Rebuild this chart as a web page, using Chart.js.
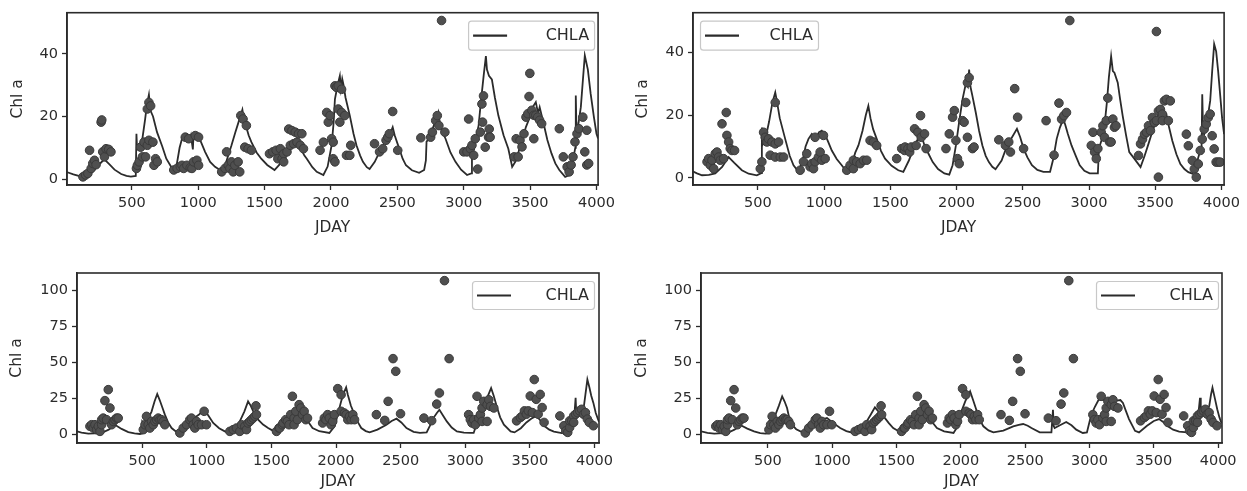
<!DOCTYPE html>
<html>
<head>
<meta charset="utf-8">
<script src="https://cdn.jsdelivr.net/npm/chart.js@4/dist/chart.umd.min.js"></script>
<style>
  body { margin: 0; background: #fff; }
  .panel { position: absolute; }
</style>
</head>
<body>
<div class="panel" style="left:0px;top:0px"><canvas id="c1" width="620" height="245"></canvas></div>
<div class="panel" style="left:625px;top:0px"><canvas id="c2" width="620" height="245"></canvas></div>
<div class="panel" style="left:0px;top:250px"><canvas id="c3" width="620" height="241"></canvas></div>
<div class="panel" style="left:625px;top:250px"><canvas id="c4" width="620" height="241"></canvas></div>
<script>
// tick labels
const xTicks = [500, 1000, 1500, 2000, 2500, 3000, 3500, 4000];
const yTicksTop = [0, 20, 40];
const yTicksBottom = [0, 25, 50, 75, 100];
const seriesName = "CHLA";

// ---- top-left: simulated line + observations
const simX1 = [12,20,60,100,132,170,210,250,293,330,370,420,460,493,530,535,540,560,580,600,615,629,640,660,690,729,760,804,816,840,860,878,900,930,945,960,965,978,1000,1020,1052,1090,1127,1164,1200,1230,1251,1280,1310,1333,1345,1360,1380,1401,1440,1475,1520,1575,1610,1650,1700,1744,1770,1800,1818,1860,1893,1943,1975,2005,2020,2030,2050,2067,2075,2085,2095,2110,2142,2170,2192,2220,2241,2270,2291,2330,2366,2400,2440,2465,2480,2500,2515,2540,2565,2610,2664,2702,2715,2720,2739,2760,2789,2809,2820,2840,2863,2900,2938,2980,3025,3057,3062,3080,3112,3130,3150,3167,3175,3190,3212,3235,3261,3300,3336,3365,3395,3424,3450,3469,3500,3520,3543,3560,3572,3602,3630,3661,3690,3720,3764,3794,3823,3840,3844,3850,3865,3882,3900,3912,3920,3935,3956,3980,4000,4012];
const simY1 = [2.2,2.1,1.5,1.0,0.7,1.2,2.5,4.5,6.3,4.8,3,1.6,1.0,0.8,1.0,14.5,9.5,11,13,19,24,27,22,20,15,10.5,6.5,3.4,2.4,5,10,12.9,13.5,12,14,9.5,14.3,14.5,14,12,8.7,5.5,3.9,2.9,4,8,10.8,15,19,22.2,19,17,14,11.8,8.5,6.5,4.5,2.9,4.5,7.5,10.5,12.9,10,7.5,6.5,3.8,2.3,1.3,4,10.8,18,25.6,30,33,29,32,30,26,20.3,14.5,10.8,7.5,5.5,3.8,3.2,5.5,8.7,11.5,13.9,16.6,14,11.5,9.7,6.5,4.4,2.8,2.0,2.9,6,12,12.9,15.5,18.7,21.3,17,15,12.9,8.5,5.5,3,1.3,1.8,9.7,11,17.1,25,33,39.3,35,33,31.9,26,20.3,14,9.7,3.9,6,10.3,14,16.7,20,23,24.6,21,23,17.7,12.5,8.2,5,2.9,0.7,1.3,6,10,26.7,14.5,18,23,33,39.5,37.9,35,27.3,20,14.5,13];
const obsX1 = [132,152,169,182,194,206,219,231,269,274,281,294,306,326,343,535,542,555,567,580,592,604,617,617,629,629,642,659,667,679,692,816,841,866,878,891,903,915,928,940,953,965,978,990,1003,1003,1177,1202,1214,1226,1239,1251,1264,1276,1301,1313,1321,1338,1351,1363,1376,1401,1537,1562,1587,1600,1619,1632,1644,1644,1669,1682,1694,1706,1719,1731,1744,1756,1769,1781,1793,1918,1943,1968,1980,1993,2005,2017,2017,2030,2030,2042,2055,2055,2067,2080,2080,2104,2117,2142,2149,2328,2366,2390,2415,2428,2440,2465,2503,2677,2751,2764,2789,2801,2813,2833,2858,3000,3025,3037,3050,3062,3075,3087,3105,3125,3137,3142,3149,3162,3187,3192,3199,3380,3395,3410,3424,3439,3454,3469,3483,3492,3498,3513,3528,3528,3543,3557,3572,3587,3720,3750,3779,3794,3809,3823,3838,3853,3868,3897,3912,3927,3927,3941];
const obsY1 = [0.7,1.3,1.8,9.2,3.4,5,6,4.6,18.2,18.9,8.7,7.1,9.7,9.5,8.7,3.4,4.4,5.5,10.2,7.1,11.8,7.1,10.8,22.4,24.5,12.4,23.4,11.8,4.4,6.5,5.5,2.9,3.4,3.9,4.4,3.4,13.4,4.4,12.9,3.6,3.4,5.5,13.9,6,4.4,13.4,2.3,3.4,8.7,4.4,3.4,5.5,2.3,4.4,5.5,2.3,20.3,19.2,10.2,17.1,9.7,9.2,8.1,8.7,9.2,6.5,9.7,6.5,8.1,5.5,8.7,16,10.8,15.5,11.3,15,11.8,14.5,10.8,14.5,9.7,9.2,11.8,21.3,18.2,20.3,12.9,11.8,6.5,5.5,29.8,29.3,29.8,22.4,18.2,28.7,21.3,20.3,7.6,7.6,10.8,11.3,8.7,9.7,12.4,13.4,14.5,21.6,9.2,13.2,13.4,15,18.7,20.3,17.1,50.7,15,8.7,8.7,19.2,9.7,10.8,7.6,12.9,3.2,15,24,18.2,26.6,10.2,13.4,16,13.4,7.1,12.9,7.1,12.4,10.3,14.5,19.8,20.9,26.4,33.8,22,20.4,12.9,20.4,19.8,18.8,17.7,16.1,7.1,3.9,2.3,4.5,7.1,11.9,14.5,16.1,19.8,8.7,15.6,4.5,5];

// ---- top-right
const simX2 = [7,40,78,130,178,230,279,320,379,430,492,525,530,540,560,585,610,631,645,665,706,740,769,807,840,860,882,907,940,960,982,1010,1030,1058,1095,1133,1171,1210,1235,1259,1290,1315,1334,1350,1370,1397,1430,1460,1510,1560,1598,1640,1680,1708,1730,1758,1790,1820,1860,1908,1945,1970,1995,2020,2045,2070,2085,2095,2105,2120,2145,2170,2195,2220,2244,2270,2294,2340,2382,2420,2456,2480,2506,2535,2569,2610,2656,2706,2730,2756,2780,2806,2820,2840,2868,2900,2930,2965,3005,3067,3075,3095,3117,3135,3150,3167,3180,3192,3217,3235,3254,3280,3304,3342,3370,3389,3420,3449,3480,3509,3539,3560,3584,3605,3629,3660,3690,3720,3750,3780,3805,3825,3850,3855,3862,3870,3895,3915,3930,3945,3960,3975,3990,4005,4020];
const simY2 = [2.1,1.4,0.8,0.9,1.4,3.5,6.6,4.8,2.4,1.3,0.8,1.5,16,11,13,18,24,27.2,24,19,12.4,7,4,1.9,6,10,12.4,14,12.5,14.5,15,13.5,11.5,8.7,6,4,1.9,4.5,8,10.3,15,20,22.9,19,15.5,12.4,8.5,6.1,3.8,2.4,1.9,5.5,10,12.4,14,10.3,7.5,5,2.8,1.4,1,4,10.3,18,25,30,29,34.5,29,26,20.8,15,10.3,7,5,3.5,2.7,5.5,10.3,13,15.6,13,9.3,6.5,4,2.5,1.9,1.9,6,12.4,16,18.7,17,14,10.3,7,4,2.2,1.4,1.4,9.3,12,16.6,24,32,38.7,34,33.5,30.3,25,19.8,13.5,8.2,6.1,4.5,3.4,7,10.8,15,18.2,22.4,20,20.3,16,11.8,7.5,4.4,2.8,1.8,1.3,3,6.5,10,26.6,14,13.9,19,24.5,34,42.6,40.3,34,26.6,19,13.9];
const obsX2 = [116,128,141,153,166,178,191,203,216,229,241,261,266,279,291,304,324,518,530,543,555,568,580,593,606,631,631,631,656,669,694,819,844,869,894,907,920,932,932,957,970,982,995,1008,1171,1196,1221,1221,1246,1272,1297,1322,1347,1372,1397,1548,1586,1608,1611,1633,1646,1658,1683,1695,1708,1728,1733,1758,1770,1920,1945,1970,1983,1995,2007,2020,2045,2057,2070,2082,2082,2095,2120,2132,2319,2369,2394,2407,2439,2461,2506,2676,2736,2773,2793,2810,2830,2855,3017,3030,3042,3055,3067,3092,3105,3117,3130,3142,3155,3167,3180,3192,3204,3374,3389,3404,3419,3434,3449,3464,3479,3494,3509,3509,3524,3524,3539,3554,3554,3569,3584,3599,3614,3735,3750,3780,3795,3810,3825,3840,3855,3870,3885,3900,3915,3930,3945,3960,3975,3990];
const obsY2 = [5.1,6.1,4,5.6,2.9,7.7,8.2,6.6,5.6,17.2,6.1,20.8,13.5,11.4,9.3,8.7,8.7,2.9,5.1,14.5,12.9,11.4,12.4,7.2,11.4,10.8,6.6,24,11.4,6.6,6.6,2.4,5.1,7.7,3.5,4.5,2.9,5.1,12.9,6.6,8.2,5.6,13.5,6.1,2.4,4,5.6,2.9,5.1,4.5,5.6,5.6,11.9,11.4,10.3,6.1,9.3,8.7,9.8,9.3,8.2,9.8,15.6,10.3,14.5,19.8,12.9,14,9.3,9.3,14,19.3,21.4,11.9,6.1,4.5,18.2,17.7,24,12.9,30.3,31.9,9.3,9.8,12.1,10.3,11.4,8.2,28.4,19.3,9.3,18.2,7.2,23.8,18.7,19.8,20.8,50.1,10.3,14.5,8.2,6.1,9.3,14.5,16.6,12.9,18.2,25.4,11.4,11.4,18.7,16.1,16.6,7.1,10.8,12.3,13.9,14.5,16.6,15,19.2,17.6,18.2,46.6,21.3,0.2,21.8,20.3,18.2,24.5,25,18.2,24.5,13.9,10.2,5.5,2.8,0.2,4.4,8.7,12.3,15.5,17.1,19.2,20.3,13.4,9.2,5,5,5];

// ---- bottom-left
const simX3 = [-5,30,83,130,186,240,289,340,392,440,482,498,500,515,540,572,595,616,635,655,675,700,727,760,791,825,856,880,907,940,979,1010,1049,1095,1139,1178,1220,1255,1290,1319,1340,1365,1397,1435,1474,1510,1539,1580,1620,1670,1710,1740,1770,1795,1818,1870,1948,1990,2013,2039,2060,2078,2091,2115,2143,2170,2195,2230,2260,2320,2390,2430,2468,2505,2545,2600,2649,2701,2725,2753,2780,2800,2830,2857,2895,2935,2990,3039,3065,3090,3117,3156,3180,3200,3220,3247,3270,3299,3351,3381,3430,3473,3510,3549,3580,3610,3650,3686,3747,3790,3808,3840,3854,3860,3869,3890,3915,3930,3945,3960,3975,3991,4010,4027,4035];
const simY3 = [2.3,1.5,0.7,0.9,1.2,3.5,6.9,4,1.8,0.9,0.5,0.8,9.2,7.5,10,16,23,28.2,24,19,13.9,8.5,4.6,2.2,1.2,4.5,9.2,11,12,14,17.3,13.5,8.1,4.5,2.3,1.2,4.5,9.2,16,23.1,20,15,10.4,7,4.6,2.8,1.8,4.5,8,11.5,14.5,16,11,7.5,4.6,2.4,1.2,6,13.9,23,29,32.8,27.7,20,13.9,8.5,4.6,2.5,1.6,3.5,6.9,9.5,11.1,8.5,4.6,2,1.2,1.6,6,11.5,15,17.3,13,9.2,5,2.3,1.5,1.2,1.2,8,16.2,23.1,28,32.3,27,18.5,12,6.9,2.3,1.6,4.5,8.5,11,13,10,6.2,3.5,2.1,1.1,2.5,5,8,25.6,13,13,15,17.6,28,38.2,33,27,22.2,15,10.8,9];
// bottom panels share the same observations
const obsX3 = [95,108,121,134,147,160,173,186,186,198,211,224,237,250,263,276,289,301,314,508,521,533,546,559,572,585,598,611,624,637,649,662,675,791,817,843,868,881,894,907,920,933,959,979,997,1178,1204,1229,1255,1268,1294,1307,1319,1332,1345,1358,1371,1380,1384,1539,1558,1564,1584,1590,1610,1623,1636,1649,1662,1675,1675,1688,1701,1714,1727,1740,1753,1766,1779,1896,1909,1922,1935,1948,1961,1974,1987,2013,2039,2039,2065,2078,2091,2104,2117,2130,2143,2312,2377,2403,2441,2462,2499,2680,2740,2779,2800,2839,2875,3026,3039,3052,3065,3078,3091,3104,3117,3130,3130,3143,3169,3169,3182,3195,3221,3397,3427,3442,3458,3473,3488,3503,3519,3534,3549,3564,3580,3595,3610,3732,3763,3778,3793,3808,3808,3824,3839,3839,3854,3869,3885,3900,3915,3930,3945,3960,3991];
const obsY3 = [5.8,6.9,4.6,6.9,3.5,5.8,2.3,6.9,10.4,11.5,23.6,10.4,31.2,18.5,6.9,9.2,10.4,11.5,11.5,3.5,6.9,12.7,6.9,4.6,9.2,6.9,9.2,10.4,11.5,10.4,10.4,9.2,6.9,1.2,4.6,6.9,10.4,11.5,6.9,4.6,9.2,6.9,6.9,16.2,6.9,2.3,3.5,4.6,2.3,6.9,5.8,3.5,8.1,9.2,10.4,11.5,12.7,20,13.9,2.3,4.6,4.6,6.9,8.1,10.4,9.2,6.9,13.9,26.6,11.5,6.9,16.2,10.4,20.8,18.5,13.9,16.2,10.4,11.5,8.1,11.5,10.4,13.9,11.5,6.9,9.2,13.9,31.9,27.7,16.2,15,13.9,10.4,12.7,10.4,13.9,10.4,13.9,9.9,23.1,52.7,43.9,14.5,11.5,9.7,21.2,28.9,106.7,52.7,13.9,10.4,8.1,10.4,6.9,26.6,11.5,13.9,18.5,9.2,23.1,20.8,9.2,24.2,19.6,18.5,9.6,11.9,13,16.5,14.2,16.5,26.8,15.3,38.2,24.5,14.2,27.9,18.8,8.5,13,6.2,2.7,1.6,5,9.6,9.6,13,8.5,14.2,15.3,16.5,17.6,14.2,15.3,10.8,8.5,6.2];

// ---- bottom-right
const simX4 = [-20,30,83,186,240,289,340,392,440,482,505,508,530,559,585,611,630,649,665,688,720,753,804,840,881,920,959,1010,1062,1110,1165,1215,1268,1300,1332,1370,1410,1440,1474,1510,1539,1580,1640,1680,1711,1740,1775,1814,1870,1943,1970,1995,2034,2055,2072,2095,2124,2150,2175,2215,2253,2330,2407,2450,2484,2520,2549,2613,2704,2716,2722,2729,2770,2819,2860,2897,2948,2980,3011,3040,3073,3120,3160,3200,3240,3260,3285,3307,3354,3385,3447,3500,3541,3570,3603,3650,3697,3759,3800,3837,3859,3865,3884,3910,3931,3945,3956,3975,3993,4010,4024,4030];
const simY4 = [2.3,1.2,0.7,1.2,3.5,6.5,4.2,2.3,1.1,0.7,1,9.2,11,13.9,20,26.6,23,18.5,12,6.9,3.8,2.3,1.2,4.5,9.2,10.5,11.5,8,4.6,2.5,1.2,4,9.2,14,18.9,15,11.5,8,4.6,2.7,1.8,4.2,8.5,11.5,13.9,13,9,4.6,2.3,1.2,5,13.9,23.1,27,30,24,16.2,10,5.8,3,1.6,2.8,5.8,6.8,7.4,6.2,4.6,1.6,1.6,17.3,6,4.6,6.5,8.8,6.5,3.5,1.2,1.6,13,19,24.5,24,24.5,23.5,24,22,16,10.8,2.7,1.6,6.2,9.5,10.8,9,6.2,3.5,2.1,1.6,3.5,6.2,25.6,14,15.3,17,19.9,28,32.5,25,17.6,12,8.5,8];

const panels = [
  { id: "c1", simX: simX1, simY: simY1, obsX: obsX1, obsY: obsY1, xMin: 12, xMax: 4012, yMin: -1.9, yMax: 53.2, yTicks: yTicksTop,
    pad: { left: 5, top: 11, right: 19, bottom: 8 }, yW: 62, xH: 52, legend: { side: "right", w: 126, h: 29, dx: 4, dy: 8 } },
  { id: "c2", simX: simX2, simY: simY2, obsX: obsX2, obsY: obsY2, xMin: 10, xMax: 4020, yMin: -2.3, yMax: 52.6, yTicks: yTicksTop,
    pad: { left: 5, top: 11, right: 20, bottom: 8 }, yW: 63, xH: 52, legend: { side: "left", w: 118, h: 29, dx: 7, dy: 8 } },
  { id: "c3", simX: simX3, simY: simY3, obsX: obsX3, obsY: obsY3, xMin: -5, xMax: 4035, yMin: -5.75, yMax: 112, yTicks: yTicksBottom,
    pad: { left: 4, top: 23, right: 21, bottom: 0 }, yW: 73, xH: 48, legend: { side: "right", w: 122, h: 28, dx: 5, dy: 8 } },
  { id: "c4", simX: simX4, simY: simY4, obsX: obsX3, obsY: obsY3, xMin: -20, xMax: 4030, yMin: -5.75, yMax: 112, yTicks: yTicksBottom,
    pad: { left: 4, top: 23, right: 23, bottom: 0 }, yW: 72, xH: 48, legend: { side: "right", w: 122, h: 28, dx: 4, dy: 8 } },
];

const FONT = "'DejaVu Sans', sans-serif";
const INK = "#2b2b2b";
Chart.defaults.font.family = FONT;
Chart.defaults.color = INK;

function pairs(xs, ys) {
  return xs.map((x, i) => ({ x: x, y: ys[i] }));
}

// frame on all 4 sides + legend box in a corner of the plot
const framePlugin = {
  id: "frame",
  afterDraw(chart, args, opts) {
    const ctx = chart.ctx;
    const a = chart.chartArea;
    ctx.save();
    ctx.strokeStyle = INK;
    ctx.lineWidth = 1.6;
    ctx.strokeRect(a.left, a.top, a.right - a.left, a.bottom - a.top);

    const lg = opts.legend;
    const x = lg.side === "right" ? a.right - lg.dx - lg.w : a.left + lg.dx;
    const y = a.top + lg.dy;
    ctx.beginPath();
    ctx.roundRect(x + 0.5, y + 0.5, lg.w, lg.h, 3);
    ctx.fillStyle = "rgba(255,255,255,0.85)";
    ctx.fill();
    ctx.strokeStyle = "#c8c8c8";
    ctx.lineWidth = 1.2;
    ctx.stroke();

    ctx.beginPath();
    ctx.moveTo(x + 5, y + lg.h / 2 + 0.5);
    ctx.lineTo(x + 39, y + lg.h / 2 + 0.5);
    ctx.strokeStyle = INK;
    ctx.lineWidth = 2.2;
    ctx.stroke();

    ctx.fillStyle = INK;
    ctx.font = "16px " + FONT;
    ctx.textAlign = "right";
    ctx.textBaseline = "middle";
    ctx.fillText(seriesName, x + lg.w - 5, y + lg.h / 2 + 1);
    ctx.restore();
  },
};

const plain = (v) => String(v);

panels.forEach((p) => {
  new Chart(document.getElementById(p.id), {
    type: "scatter",
    data: {
      datasets: [
        {
          label: "obs",
          data: pairs(p.obsX, p.obsY),
          pointRadius: 4.3,
          pointBackgroundColor: "#4f4f4f",
          pointBorderColor: "#3a3a3a",
          pointBorderWidth: 1,
          order: 1,
        },
        {
          label: seriesName,
          data: pairs(p.simX, p.simY),
          showLine: true,
          borderColor: INK,
          borderWidth: 1.8,
          pointRadius: 0,
          tension: 0,
          order: 2,
        },
      ],
    },
    options: {
      responsive: false,
      animation: false,
      devicePixelRatio: 1,
      layout: { padding: p.pad },
      plugins: {
        legend: { display: false },
        tooltip: { enabled: false },
        frame: { legend: p.legend },
      },
      scales: {
        x: {
          type: "linear",
          min: p.xMin,
          max: p.xMax,
          afterBuildTicks: (s) => { s.ticks = xTicks.map((v) => ({ value: v })); },
          afterFit: (s) => { s.height = p.xH; },
          grid: { drawOnChartArea: false, drawTicks: true, tickLength: 5, tickColor: INK, tickWidth: 1.3 },
          border: { display: true, color: INK, width: 1.6 },
          ticks: { color: INK, font: { size: 14.5 }, padding: 5, maxRotation: 0, autoSkip: false, callback: plain },
          title: { display: true, text: "JDAY", color: INK, font: { size: 15.5 }, padding: { top: 0, bottom: 0 } },
        },
        y: {
          type: "linear",
          min: p.yMin,
          max: p.yMax,
          afterBuildTicks: (s) => { s.ticks = p.yTicks.map((v) => ({ value: v })); },
          afterFit: (s) => { s.width = p.yW; },
          grid: { drawOnChartArea: false, drawTicks: true, tickLength: 5, tickColor: INK, tickWidth: 1.3 },
          border: { display: true, color: INK, width: 1.6 },
          ticks: { color: INK, font: { size: 14.5 }, padding: 4, autoSkip: false, callback: plain },
          title: { display: true, text: "Chl a", color: INK, font: { size: 15.5 }, padding: { top: 4, bottom: 0 } },
        },
      },
    },
    plugins: [framePlugin],
  });
});
</script>
</body>
</html>
